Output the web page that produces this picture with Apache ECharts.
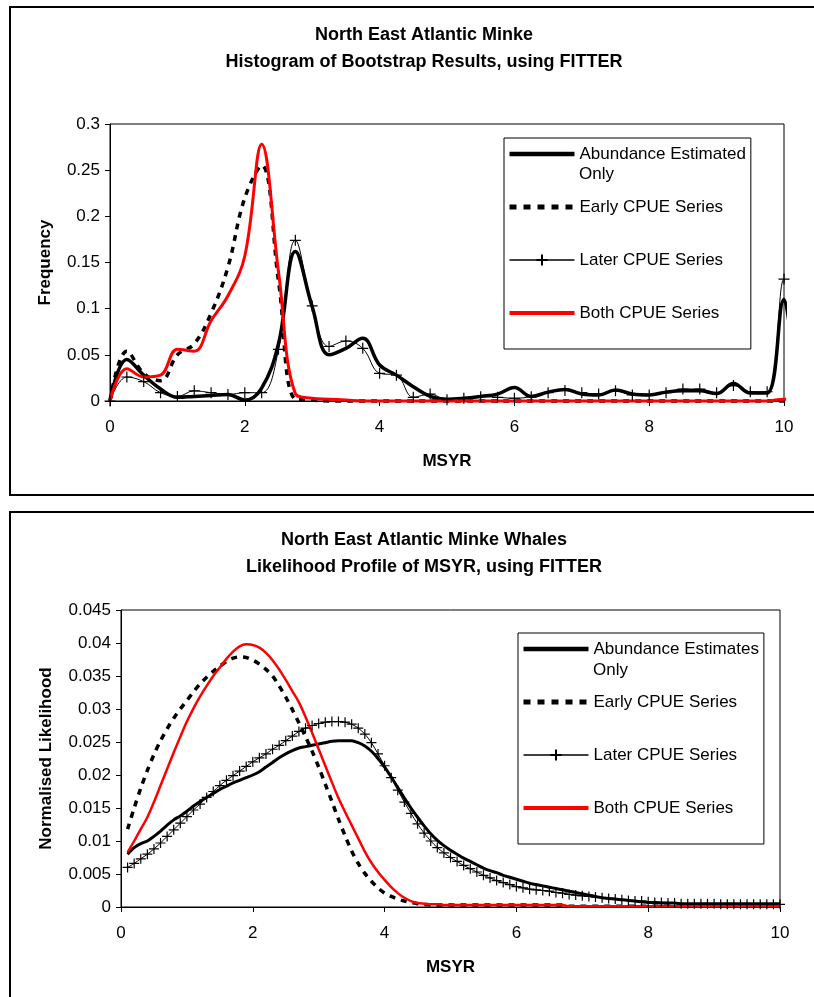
<!DOCTYPE html>
<html><head><meta charset="utf-8">
<script src="https://cdn.jsdelivr.net/npm/echarts@6/dist/echarts.min.js"></script>
<style>html,body{margin:0;padding:0;background:#fff}#c{width:814px;height:997px}</style>
</head><body><div id="c"></div>
<script>
// ---------- Top chart: Histogram of bootstrap results ----------
const topTitle = 'North East Atlantic Minke\nHistogram of Bootstrap Results, using FITTER';
const topYName = 'Frequency';
const msyrTop = [0,0.25,0.5,0.75,1,1.25,1.5,1.75,2,2.25,2.5,2.75,3,3.25,3.5,3.75,4,4.25,4.5,4.75,5,5.25,5.5,5.75,6,6.25,6.5,6.75,7,7.25,7.5,7.75,8,8.25,8.5,8.75,9,9.25,9.5,9.75,10,10.1];
const abundTop = [0,0.045,0.028,0.013,0.004,0.005,0.006,0.007,0.001,0.014,0.062,0.162,0.102,0.05,0.057,0.068,0.039,0.028,0.0155,0.005,0.002,0.003,0.005,0.0075,0.0145,0.005,0.0096,0.0125,0.0075,0.0065,0.012,0.0075,0.0065,0.0096,0.011,0.011,0.008,0.019,0.0086,0.0086,0.11,0.07];
const earlyTop = [0,0.054,0.03,0.022,0.05,0.062,0.095,0.145,0.22,0.255,0.13,0.002,0.001,0,0,0,0,0,0,0,0,0,0,0,0,0,0,0,0,0,0,0,0,0,0,0,0,0,0,0,0,0];
const laterTop = [0,0.026,0.021,0.009,0.005,0.011,0.009,0.007,0.009,0.009,0.056,0.174,0.103,0.059,0.065,0.057,0.03,0.028,0.004,0.0076,0.0014,0.003,0.0047,0.004,0.003,0.0047,0.009,0.0115,0.009,0.0076,0.011,0.0065,0.0065,0.009,0.013,0.013,0.009,0.0167,0.01,0.01,0.132,0.08];
const bothTop = [0,0.035,0.026,0.028,0.056,0.054,0.087,0.114,0.157,0.278,0.14,0.008,0.003,0.002,0.001,0,0,0,0,0,0,0,0,0,0,0,0,0,0,0,0,0,0,0,0,0,0,0,0,0,0.002,0.002];

// ---------- Bottom chart: Likelihood profile ----------
const botTitle = 'North East Atlantic Minke Whales\nLikelihood Profile of MSYR, using FITTER';
const botYName = 'Normalised Likelihood';
const msyrBot = [0.1,0.2,0.3,0.4,0.5,0.6,0.7,0.8,0.9,1.0,1.1,1.2,1.3,1.4,1.5,1.6,1.7,1.8,1.9,2.0,2.1,2.2,2.3,2.4,2.5,2.6,2.7,2.8,2.9,3.0,3.1,3.2,3.3,3.4,3.5,3.6,3.7,3.8,3.9,4.0,4.1,4.2,4.3,4.4,4.5,4.6,4.7,4.8,4.9,5.0,5.1,5.2,5.3,5.4,5.5,5.6,5.7,5.8,5.9,6.0,6.1,6.2,6.3,6.4,6.5,6.6,6.7,6.8,6.9,7.0,7.1,7.2,7.3,7.4,7.5,7.6,7.7,7.8,7.9,8.0,8.1,8.2,8.3,8.4,8.5,8.6,8.7,8.8,8.9,9.0,9.1,9.2,9.3,9.4,9.5,9.6,9.7,9.8,9.9,10.0];
const abundBot = [0.0080,0.0090,0.0096,0.0100,0.0107,0.0115,0.0124,0.0132,0.0138,0.0145,0.0153,0.0160,0.0166,0.0172,0.0178,0.0183,0.0188,0.0192,0.0196,0.0200,0.0205,0.0212,0.0219,0.0226,0.0232,0.0237,0.0241,0.0243,0.0245,0.0247,0.0249,0.0251,0.0252,0.0252,0.0252,0.0249,0.0244,0.0236,0.0225,0.0212,0.0197,0.0181,0.0165,0.0150,0.0136,0.0123,0.0111,0.0101,0.0093,0.0086,0.0080,0.0074,0.0069,0.0064,0.0059,0.0055,0.0052,0.0048,0.0045,0.0042,0.0039,0.0036,0.0034,0.0032,0.0030,0.0028,0.0026,0.0024,0.0022,0.0020,0.0018,0.0016,0.0014,0.0013,0.0012,0.0011,0.0010,0.0009,0.0008,0.0007,0.0007,0.0006,0.0006,0.0006,0.0005,0.0005,0.0005,0.0005,0.0005,0.0005,0.0005,0.0005,0.0005,0.0005,0.0005,0.0005,0.0005,0.0005,0.0005,0.0005];
const earlyBot = [0.0118,0.0150,0.0180,0.0207,0.0231,0.0252,0.0270,0.0286,0.0300,0.0313,0.0326,0.0338,0.0348,0.0357,0.0365,0.0372,0.0377,0.0379,0.0378,0.0374,0.0368,0.0360,0.0350,0.0335,0.0318,0.0299,0.0279,0.0258,0.0236,0.0212,0.0186,0.0160,0.0133,0.0108,0.0085,0.0066,0.0051,0.0039,0.0029,0.0021,0.0016,0.0012,0.0009,0.0007,0.0005,0.0004,0.0003,0.0003,0.0003,0.0003,0.0003,0.0003,0.0003,0.0003,0.0003,0.0003,0.0003,0.0003,0.0003,0.0003,0.0003,0.0003,0.0003,0.0003,0.0003,0.0003,0.0003,0.0001,0.0001,0.0001,0.0001,0.0001,0.0001,0.0001,0.0001,0.0001,0.0001,0.0001,0.0001,0.0001,0.0001,0.0001,0.0001,0.0001,0.0001,0.0001,0.0001,0.0001,0.0001,0.0001,0.0001,0.0001,0.0001,0.0001,0.0001,0.0001,0.0001,0.0001,0.0001,0.0001];
const laterBot = [0.0060,0.0066,0.0073,0.0080,0.0088,0.0097,0.0107,0.0117,0.0127,0.0137,0.0147,0.0156,0.0166,0.0175,0.0184,0.0192,0.0199,0.0206,0.0213,0.0220,0.0226,0.0232,0.0239,0.0245,0.0252,0.0259,0.0266,0.0271,0.0275,0.0278,0.0280,0.0281,0.0281,0.0280,0.0277,0.0271,0.0262,0.0249,0.0232,0.0214,0.0196,0.0177,0.0159,0.0142,0.0126,0.0112,0.0100,0.0090,0.0082,0.0075,0.0069,0.0063,0.0058,0.0053,0.0048,0.0044,0.0040,0.0037,0.0034,0.0031,0.0029,0.0027,0.0026,0.0025,0.0024,0.0022,0.0021,0.0019,0.0018,0.0017,0.0016,0.0015,0.0014,0.0013,0.0012,0.0011,0.0010,0.0009,0.0009,0.0008,0.0007,0.0007,0.0006,0.0006,0.0005,0.0005,0.0005,0.0005,0.0005,0.0005,0.0004,0.0004,0.0004,0.0004,0.0004,0.0004,0.0004,0.0004,0.0004,0.0004];
const bothBot = [0.0083,0.0100,0.0118,0.0136,0.0159,0.0184,0.0209,0.0234,0.0258,0.0281,0.0301,0.0319,0.0335,0.0350,0.0363,0.0376,0.0387,0.0395,0.0398,0.0397,0.0393,0.0385,0.0374,0.0360,0.0344,0.0327,0.0310,0.0288,0.0264,0.0239,0.0214,0.0189,0.0165,0.0144,0.0124,0.0104,0.0084,0.0067,0.0053,0.0041,0.0030,0.0021,0.0014,0.0009,0.0006,0.0005,0.0004,0.0004,0.0003,0.0003,0.0003,0.0003,0.0003,0.0003,0.0003,0.0003,0.0003,0.0003,0.0003,0.0003,0.0003,0.0003,0.0003,0.0003,0.0003,0.0003,0.0003,0.0001,0.0001,0.0001,0.0001,0.0001,0.0001,0.0001,0.0001,0.0001,0.0001,0.0001,0.0001,0.0001,0.0001,0.0001,0.0001,0.0001,0.0001,0.0001,0.0001,0.0001,0.0001,0.0001,0.0001,0.0001,0.0001,0.0001,0.0001,0.0001,0.0001,0.0001,0.0001,0.0001];

const nameAbundTop = 'Abundance Estimated';
const nameAbundBot = 'Abundance Estimates';
const nameEarly = 'Early CPUE Series';
const nameLater = 'Later CPUE Series';
const nameBoth = 'Both CPUE Series';

const FONT = '"Liberation Sans", Arial, sans-serif';
const PLUS = 'path://M0,5L10,5M5,0L5,10';

function pairs(xs, ys) { return xs.map((x, i) => [x, ys[i]]); }

const chart = echarts.init(document.getElementById('c'), null, { renderer: 'canvas' });

function xAxisCfg(gi) {
  return {
    gridIndex: gi, type: 'value', min: 0, max: 10, interval: 2,
    name: 'MSYR', nameLocation: 'middle', nameGap: 52,
    nameTextStyle: { fontFamily: FONT, fontSize: 17, fontWeight: 'bold', color: '#000' },
    axisLine: { onZero: false, lineStyle: { color: '#000', width: 1 } },
    axisTick: { show: true, inside: false, length: 5, lineStyle: { color: '#000' } },
    axisLabel: { fontFamily: FONT, fontSize: 17, color: '#000', margin: 18 },
    splitLine: { show: false }
  };
}
function yAxisCfg(gi, max, interval, name, gap) {
  return {
    gridIndex: gi, type: 'value', min: 0, max: max, interval: interval,
    name: name, nameLocation: 'middle', nameGap: gap, nameRotate: 90,
    nameTextStyle: { fontFamily: FONT, fontSize: 17, fontWeight: 'bold', color: '#000' },
    axisLine: { show: true, lineStyle: { color: '#000', width: 1 } },
    axisTick: { show: true, inside: false, length: 5, lineStyle: { color: '#000' } },
    axisLabel: { fontFamily: FONT, fontSize: 17, color: '#000', margin: 10 },
    splitLine: { show: false }
  };
}
const noMark = { opacity: 0 };
function legendCfg(left, top, abundName) {
  return {
    left: left, top: top, orient: 'vertical',
    data: [
      { name: abundName, itemStyle: noMark, lineStyle: { width: 4.5, color: '#000' } },
      { name: nameEarly, itemStyle: noMark, lineStyle: { width: 5, color: '#000', type: [7, 7] } },
      { name: nameLater, lineStyle: { width: 1.5, color: '#000' } },
      { name: nameBoth, itemStyle: noMark, lineStyle: { width: 4, color: '#ff0000' } }
    ],
    padding: [6, 5, 26, 3],
    borderColor: '#000', borderWidth: 1, backgroundColor: '#fff',
    itemWidth: 65, itemHeight: 14, itemGap: 33,
    selectedMode: false,
    textStyle: { fontFamily: FONT, fontSize: 17, color: '#000', lineHeight: 20 }
  };
}

const option = {
  animation: false,
  backgroundColor: '#fff',
  title: [
    { text: topTitle, left: 419, top: 17, textAlign: 'center',
      textStyle: { fontFamily: FONT, fontSize: 18, fontWeight: 'bold', color: '#000', lineHeight: 27 } },
    { text: botTitle, left: 419, top: 522, textAlign: 'center',
      textStyle: { fontFamily: FONT, fontSize: 18, fontWeight: 'bold', color: '#000', lineHeight: 27 } }
  ],
  grid: [
    { left: 110, top: 124, width: 674, height: 277, show: true, borderColor: '#000', borderWidth: 1, backgroundColor: 'transparent' },
    { left: 121, top: 610, width: 659, height: 297, show: true, borderColor: '#000', borderWidth: 1, backgroundColor: 'transparent' }
  ],
  xAxis: [xAxisCfg(0), xAxisCfg(1)],
  yAxis: [yAxisCfg(0, 0.3, 0.05, topYName, 56), yAxisCfg(1, 0.045, 0.005, botYName, 66)],
  legend: [
    legendCfg(504, 138, nameAbundTop),
    legendCfg(518, 633, nameAbundBot)
  ],
  graphic: [
    { type: 'rect', shape: { x: 10, y: 7, width: 830, height: 488 }, style: { fill: 'none', stroke: '#000', lineWidth: 2 }, z: 100 },
    { type: 'rect', shape: { x: 10, y: 512, width: 830, height: 500 }, style: { fill: 'none', stroke: '#000', lineWidth: 2 }, z: 100 },
    { type: 'text', left: 579, top: 166, style: { text: 'Only', font: '17px ' + FONT, fill: '#000' }, z: 100 },
    { type: 'text', left: 593, top: 662, style: { text: 'Only', font: '17px ' + FONT, fill: '#000' }, z: 100 }
  ],
  series: [
    { name: nameAbundTop, type: 'line', xAxisIndex: 0, yAxisIndex: 0, smooth: 0.4, symbol: 'none', clip: false,
      lineStyle: { color: '#000', width: 3.5 }, itemStyle: { color: '#000' }, data: pairs(msyrTop, abundTop) },
    { name: nameEarly, type: 'line', xAxisIndex: 0, yAxisIndex: 0, smooth: 0.4, symbol: 'none', clip: false,
      lineStyle: { color: '#000', width: 3.5, type: [6, 6] }, itemStyle: { color: '#000' }, data: pairs(msyrTop, earlyTop) },
    { name: nameLater, type: 'line', xAxisIndex: 0, yAxisIndex: 0, smooth: 0.4, clip: false,
      symbol: PLUS, symbolSize: 11, showSymbol: true,
      lineStyle: { color: '#000', width: 1 }, itemStyle: { color: '#000', borderColor: '#000', borderWidth: 1.2 },
      data: msyrTop.map((x, i) => x > 10 ? { value: [x, laterTop[i]], symbol: 'none' } : [x, laterTop[i]]) },
    { name: nameBoth, type: 'line', xAxisIndex: 0, yAxisIndex: 0, smooth: 0.4, symbol: 'none', clip: false,
      lineStyle: { color: '#ff0000', width: 3 }, itemStyle: { color: '#ff0000' }, data: pairs(msyrTop, bothTop) },

    { name: nameAbundBot, type: 'line', xAxisIndex: 1, yAxisIndex: 1, smooth: 0.3, symbol: 'none',
      lineStyle: { color: '#000', width: 3 }, itemStyle: { color: '#000' }, data: pairs(msyrBot, abundBot) },
    { name: nameEarly, type: 'line', xAxisIndex: 1, yAxisIndex: 1, smooth: 0.3, symbol: 'none',
      lineStyle: { color: '#000', width: 3.5, type: [6, 6] }, itemStyle: { color: '#000' }, data: pairs(msyrBot, earlyBot) },
    { name: nameLater, type: 'line', xAxisIndex: 1, yAxisIndex: 1, smooth: 0.3,
      symbol: PLUS, symbolSize: 10, showSymbol: true,
      lineStyle: { color: '#000', width: 1 }, itemStyle: { color: '#000', borderColor: '#000', borderWidth: 1.2 },
      data: pairs(msyrBot, laterBot) },
    { name: nameBoth, type: 'line', xAxisIndex: 1, yAxisIndex: 1, smooth: 0.3, symbol: 'none',
      lineStyle: { color: '#ff0000', width: 2.5 }, itemStyle: { color: '#ff0000' }, data: pairs(msyrBot, bothBot) }
  ]
};
chart.setOption(option);
</script></body></html>
